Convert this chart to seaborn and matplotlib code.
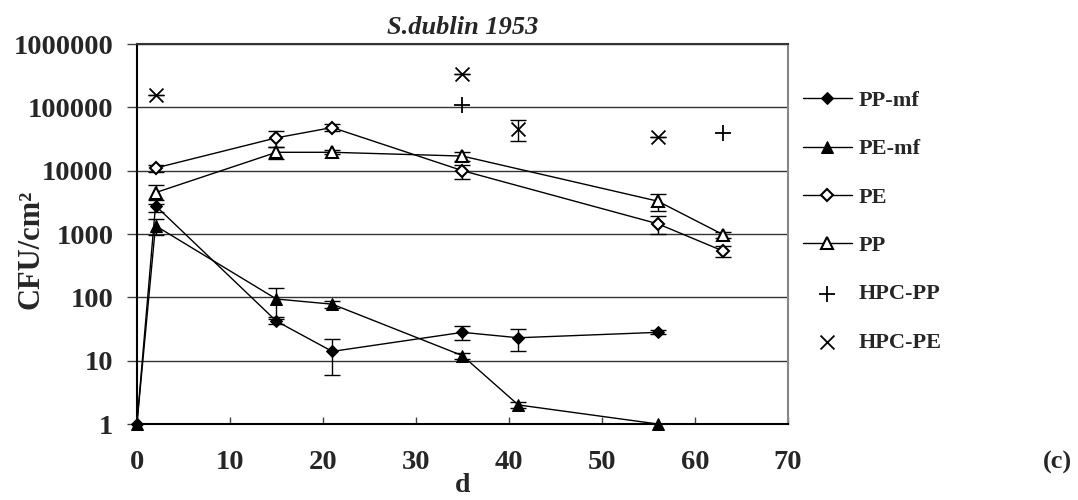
import numpy as np
import pandas as pd
import matplotlib
matplotlib.use('Agg')
import matplotlib.pyplot as plt
import seaborn as sns
from matplotlib.ticker import FixedLocator, FixedFormatter, NullLocator

# data (S.dublin 1953, CFU/cm2 against days)
days_pp_mf = [0, 2, 15, 21, 35, 41, 56]
pp_mf = [1, 2800, 42, 14, 28, 23, 28]
pp_mf_err = [0, 600, 4, 8, 7, 9, 2]

days_pe_mf = [0, 2, 15, 21, 35, 41, 56]
pe_mf = [1, 1350, 94, 78, 12, 2, 1]
pe_mf_err = [0, 400, 45, 10, 1.2, 0.2, 0]

days_pe = [2, 15, 21, 35, 56, 63]
pe = [11000, 33000, 48000, 10000, 1450, 540]
pe_err = [1500, 9000, 6000, 2500, 450, 100]

days_pp = [2, 15, 21, 35, 56, 63]
pp = [4500, 19500, 19500, 17000, 3300, 980]
pp_err = [1500, 4000, 1500, 3000, 1000, 100]

days_hpc_pp = [35, 63]
hpc_pp = [110000, 40000]

days_hpc_pe = [2, 35, 41, 56]
hpc_pe = [155000, 340000, 46000, 34000]
hpc_pe_err = [0, 0, 17000, 0]

y_ticks = [1, 10, 100, 1000, 10000, 100000, 1000000]
x_ticks = [0, 10, 20, 30, 40, 50, 60, 70]

sns.set_style('white')
plt.rcParams['font.family'] = ['Liberation Serif', 'DejaVu Serif']
plt.rcParams['font.weight'] = 'bold'

fig = plt.figure(figsize=(10.78, 5.0), dpi=100)
ax = fig.add_axes([0.127, 0.152, 0.604, 0.760])
ax.set_yscale('log')

# error bars first so markers sit on top
for xs, ys, es in [(days_pp_mf, pp_mf, pp_mf_err), (days_pe_mf, pe_mf, pe_mf_err),
                   (days_pe, pe, pe_err), (days_pp, pp, pp_err),
                   (days_hpc_pe, hpc_pe, hpc_pe_err)]:
    ax.errorbar(xs, ys, yerr=es, fmt='none', ecolor='black', elinewidth=1,
                capsize=6, capthick=1, zorder=2)

sns.lineplot(x=days_pp_mf, y=pp_mf, ax=ax, color='black', lw=1, marker='D',
             markersize=6.5, markerfacecolor='black', markeredgecolor='black',
             label='PP-mf', clip_on=False, zorder=3)
sns.lineplot(x=days_pe_mf, y=pe_mf, ax=ax, color='black', lw=1, marker='^',
             markersize=9, markerfacecolor='black', markeredgecolor='black',
             label='PE-mf', clip_on=False, zorder=3)
sns.lineplot(x=days_pe, y=pe, ax=ax, color='black', lw=1, marker='D',
             markersize=6.5, markerfacecolor='white', markeredgecolor='black',
             markeredgewidth=1.5, label='PE', zorder=3)
sns.lineplot(x=days_pp, y=pp, ax=ax, color='black', lw=1, marker='^',
             markersize=9, markerfacecolor='white', markeredgecolor='black',
             markeredgewidth=1.5, label='PP', zorder=3)
sns.scatterplot(x=days_hpc_pp, y=hpc_pp, ax=ax, color='black', marker='+',
                s=130, linewidth=1.3, label='HPC-PP', zorder=3)
sns.scatterplot(x=days_hpc_pe, y=hpc_pe, ax=ax, color='black', marker='x',
                s=100, linewidth=1.3, label='HPC-PE', zorder=3)

ax.set_xlim(0, 70)
ax.set_ylim(1, 1000000)
ax.yaxis.set_major_locator(FixedLocator(y_ticks))
ax.yaxis.set_major_formatter(FixedFormatter([str(v) for v in y_ticks]))
ax.yaxis.set_minor_locator(NullLocator())
ax.set_xticks(x_ticks)
ax.set_xticklabels([str(v) for v in x_ticks])

ax.grid(True, axis='y', color='#333333', lw=1)
ax.grid(False, axis='x')
ax.set_axisbelow(True)

for side in ['left', 'bottom']:
    ax.spines[side].set_color('black')
    ax.spines[side].set_linewidth(1.5)
ax.spines['top'].set_color('#333333')
ax.spines['top'].set_linewidth(1.5)
ax.spines['right'].set_color('#888888')
ax.spines['right'].set_linewidth(1.5)

ax.tick_params(axis='y', direction='out', length=7, width=1, color='#444444',
               labelsize=20.5, pad=10, left=True)
ax.tick_params(axis='x', direction='in', length=5, width=1, color='#444444',
               labelsize=20.5, pad=19, bottom=True)
for lab in ax.get_xticklabels() + ax.get_yticklabels():
    lab.set_fontweight('bold')

ax.set_xlabel('d', fontsize=20, fontweight='bold', labelpad=-2)
ax.set_ylabel('CFU/cm\u00b2', fontsize=22, fontweight='bold')
ax.yaxis.set_label_coords(-0.141, 0.46)
ax.set_title('S.dublin 1953', fontsize=19, fontweight='bold', style='italic', pad=7)

handles, labels = ax.get_legend_handles_labels()
ax.get_legend().remove()
fig.legend(handles, labels, loc='upper left', bbox_to_anchor=(0.726, 0.859),
           frameon=False, labelspacing=1.25, handlelength=2.2,
           handletextpad=0.3, prop={'weight': 'bold', 'size': 16})

fig.text(0.981, 0.076, '(c)', fontsize=19, fontweight='bold', ha='center', va='center')

fig.savefig('out.png', dpi=100)
